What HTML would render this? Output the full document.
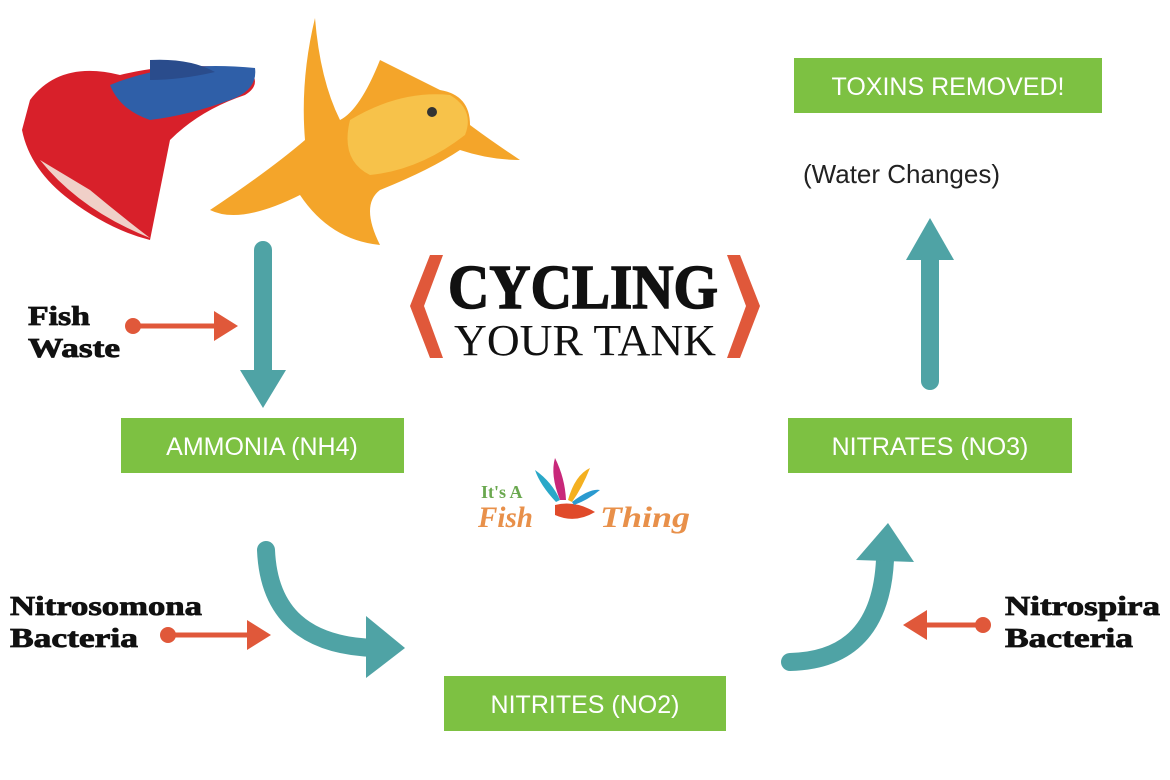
<!DOCTYPE html>
<html><head><style>body{margin:0;background:#fff}svg{display:block}</style></head><body>
<svg width="1170" height="780" viewBox="0 0 1170 780" xmlns="http://www.w3.org/2000/svg">
<rect width="1170" height="780" fill="#fff"/>
<g>
<path d="M30 100 Q60 60 120 75 Q180 60 250 70 Q262 85 245 95 Q200 110 170 140 Q160 190 150 240 Q110 230 70 200 Q30 170 22 130 Z" fill="#d8202a"/>
<path d="M110 85 Q170 60 255 68 Q258 90 230 100 Q190 115 150 120 Q120 110 110 85 Z" fill="#2f5fa8"/>
<path d="M150 60 Q190 58 215 72 Q180 80 150 80 Z" fill="#2a4c8c"/>
<path d="M40 160 Q80 210 150 238 Q120 215 90 190 Z" fill="#f0d0c8"/>
</g>
<g>
<path d="M315 18 Q300 80 305 140 Q270 170 210 210 Q240 225 300 195 Q330 240 380 245 Q360 205 380 190 Q430 170 460 150 Q490 160 520 160 Q490 140 470 125 Q470 95 440 90 Q400 70 380 60 Q360 110 340 120 Q320 80 315 18 Z" fill="#f4a52a"/>
<path d="M350 120 Q400 90 450 95 Q475 110 465 135 Q420 170 370 175 Q340 160 350 120 Z" fill="#f7c24a"/>
<circle cx="432" cy="112" r="5" fill="#333"/>
</g>
<polygon points="430,255 443,255 424,306 443,358 430,358 410,306" fill="#e0583a"/>
<polygon points="740,255 727,255 746,306 727,358 740,358 760,306" fill="#e0583a"/>
<text x="583" y="308" text-anchor="middle" font-family="Liberation Serif,serif" font-weight="bold" font-size="62" fill="#111" stroke="#111" stroke-width="1.5" textLength="270" lengthAdjust="spacingAndGlyphs">CYCLING</text>
<text x="585" y="355" text-anchor="middle" font-family="Liberation Serif,serif" font-size="44" fill="#111" textLength="262" lengthAdjust="spacingAndGlyphs">YOUR TANK</text>
<text x="481" y="498" font-family="Liberation Serif,serif" font-weight="bold" font-size="18" fill="#6aa84f">It's A</text>
<text x="478" y="527" font-family="Liberation Serif,serif" font-weight="bold" font-style="italic" font-size="30" fill="#e8904a" textLength="55" lengthAdjust="spacingAndGlyphs">Fish</text>
<text x="600" y="527" font-family="Liberation Serif,serif" font-weight="bold" font-style="italic" font-size="30" fill="#e8904a" textLength="90" lengthAdjust="spacingAndGlyphs">Thing</text>
<path d="M555 505 Q575 500 595 512 Q575 524 555 515 Z" fill="#e04a2a"/>
<path d="M560 500 Q550 475 555 458 Q565 478 566 500 Z" fill="#c8287a"/>
<path d="M568 500 Q575 475 590 468 Q582 488 572 502 Z" fill="#f4b020"/>
<path d="M556 502 Q540 485 535 470 Q552 482 560 500 Z" fill="#2aa8c8"/>
<path d="M572 502 Q590 488 600 490 Q588 500 574 505 Z" fill="#2a9ad0"/>
<g font-family="Liberation Sans,sans-serif" font-size="25" fill="#fff" text-anchor="middle">
<rect x="794" y="58" width="308" height="55" fill="#7dc142"/><text x="948" y="95">TOXINS REMOVED!</text>
<rect x="121" y="418" width="283" height="55" fill="#7dc142"/><text x="262" y="455">AMMONIA (NH4)</text>
<rect x="788" y="418" width="284" height="55" fill="#7dc142"/><text x="930" y="455">NITRATES (NO3)</text>
<rect x="444" y="676" width="282" height="55" fill="#7dc142"/><text x="585" y="713">NITRITES (NO2)</text>
</g>
<text x="803" y="183" font-family="Liberation Sans,sans-serif" font-size="26" fill="#222">(Water Changes)</text>
<g stroke="#4fa3a5" stroke-width="18" stroke-linecap="round" fill="none">
<line x1="263" y1="250" x2="263" y2="375"/>
<line x1="930" y1="381" x2="930" y2="258"/>
<path d="M266 550 Q270 645 375 648"/>
<path d="M790 662 Q880 660 885 560"/>
</g>
<g fill="#4fa3a5">
<polygon points="240,370 286,370 263,408"/>
<polygon points="906,260 954,260 930,218"/>
<polygon points="366,616 366,678 405,648"/>
<polygon points="856,560 914,562 888,523"/>
</g>
<g stroke="#e0583a" stroke-width="5" fill="#e0583a">
<line x1="133" y1="326" x2="220" y2="326"/><circle cx="133" cy="326" r="8" stroke="none"/>
<polygon points="214,311 214,341 238,326" stroke="none"/>
<line x1="168" y1="635" x2="252" y2="635"/><circle cx="168" cy="635" r="8" stroke="none"/>
<polygon points="247,620 247,650 271,635" stroke="none"/>
<line x1="983" y1="625" x2="920" y2="625"/><circle cx="983" cy="625" r="8" stroke="none"/>
<polygon points="927,610 927,640 903,625" stroke="none"/>
</g>
<g font-family="Liberation Serif,serif" font-weight="bold" font-size="27" fill="#111" stroke="#111" stroke-width="0.8">
<text x="28" y="325" textLength="62" lengthAdjust="spacingAndGlyphs">Fish</text><text x="28" y="357" textLength="92" lengthAdjust="spacingAndGlyphs">Waste</text>
<text x="10" y="615" textLength="192" lengthAdjust="spacingAndGlyphs">Nitrosomona</text><text x="10" y="647" textLength="128" lengthAdjust="spacingAndGlyphs">Bacteria</text>
<text x="1005" y="615" textLength="155" lengthAdjust="spacingAndGlyphs">Nitrospira</text><text x="1005" y="647" textLength="128" lengthAdjust="spacingAndGlyphs">Bacteria</text>
</g>
</svg>
</body></html>
